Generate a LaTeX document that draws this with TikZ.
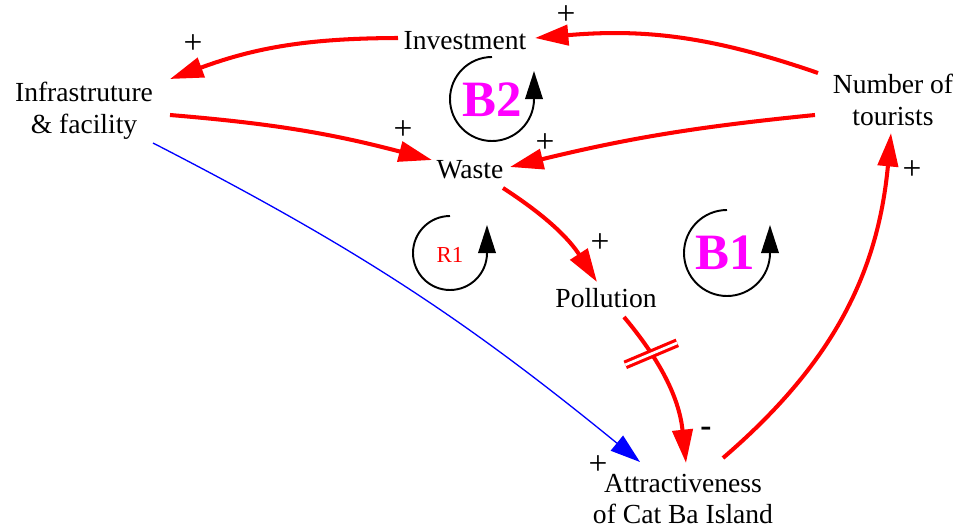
\documentclass[tikz,border=0pt]{standalone}
\usepackage{fontspec}
\setmainfont{Liberation Serif}
\usetikzlibrary{arrows.meta}
\definecolor{loopmag}{RGB}{255,0,255}
\tikzset{var/.style={align=center,inner sep=0pt,font=\fontsize{15.7}{18}\selectfont},
 link/.style={draw=red,line width=2.3pt,-{Triangle[length=19pt,width=11.5pt]}},
 infl/.style={draw=blue,line width=0.75pt,-{Triangle[length=17pt,width=11pt]}},
 sgn/.style={font=\fontsize{19}{19}\selectfont,inner sep=0pt},
 loopsym/.style={draw=black,line width=1.1pt,-{Triangle[length=16pt,width=10pt]}},
 looplbl/.style={font=\fontsize{29}{29}\selectfont\bfseries,text=loopmag},
 delay/.style={draw=red,line width=1.8pt,double=white,double distance=1.5pt}}

\begin{document}
\begin{tikzpicture}[x=0.02cm,y=0.02cm]
\useasboundingbox (0,0) rectangle (958,529);
% variables
\node[var] (inv) at (465,488) {Investment};
\node[var] (infra) at (84,418) {Infrastruture\\\& facility};
\node[var] (tour) at (893,429) {Number of\\tourists};
\node[var] (waste) at (470,359) {Waste};
\node[var] (poll) at (606,231) {Pollution};
\node[var] (attr) at (683,30) {Attractiveness\\of Cat Ba Island};
% links
\draw[link] ([shift={(-75,27)}]tour.center) to[bend right=12] node[sgn,at end,shift={(31,23)}]{+} ([shift={(70,3)}]inv.center);
\draw[link] ([shift={(-67,3)}]inv.center) to[bend right=10] node[sgn,at end,shift={(23,35)}]{+} ([shift={(86,32)}]infra.center);
\draw[link] ([shift={(86,-4)}]infra.center) to[bend left=5] node[sgn,at end,shift={(-29,30)}]{+} ([shift={(-38,10)}]waste.center);
\draw[link] ([shift={(-78,-15)}]tour.center) to[bend right=4] node[sgn,at end,shift={(35,24)}]{+} ([shift={(40,3)}]waste.center);
\draw[link] ([shift={(33,-18)}]waste.center) to[bend left=12] node[sgn,at end,shift={(3,39)}]{+} ([shift={(-9,16)}]poll.center);
\draw[link] ([shift={(18,-19)}]poll.center) to[bend left=17] coordinate[pos=.27] (dly) node[sgn,at end,shift={(20,31)}]{\textbf{-}} ([shift={(3,36)}]attr.center);
\draw[link] ([shift={(40,41)}]attr.center) to[bend right=22] node[sgn,at end,shift={(21,-37)}]{+} ([shift={(-2,-33)}]tour.center);
\draw[infl] ([shift={(69,-32)}]infra.center) to[bend left=6] node[sgn,at end,shift={(-42,-3)}]{+} ([shift={(-43,37)}]attr.center);
\draw[delay] ([shift={(-26,-11)}]dly) -- ([shift={(26,11)}]dly);
% loops
\draw[loopsym] (492,472) arc[start angle=90,end angle=360,radius=42] -- ++(0,28);
\node[looplbl] (b2) at (492,429) {B2};
\draw[loopsym] (450,313) arc[start angle=90,end angle=360,radius=37] -- ++(0,28);
\node[font=\fontsize{13}{13}\selectfont,text=red] (r1) at (450,274) {R1};
\draw[loopsym] (727,319) arc[start angle=90,end angle=360,radius=43] -- ++(0,28);
\node[looplbl] (b1) at (725,276) {B1};
\end{tikzpicture}
\end{document}
